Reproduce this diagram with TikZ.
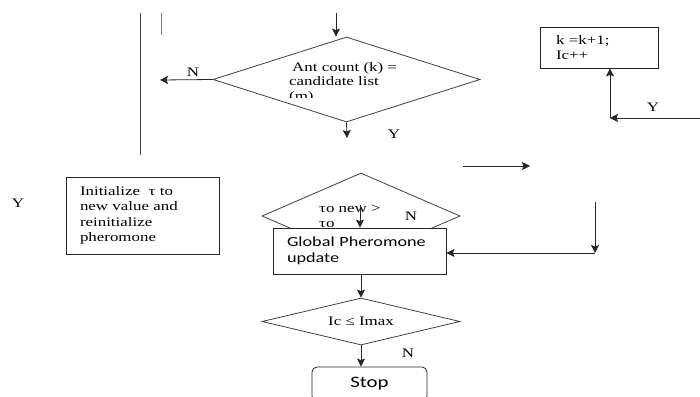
\documentclass[tikz,border=0pt]{standalone}
\usepackage{fontspec}
\setmainfont{Liberation Serif}[FakeStretch=1.3]
\newfontfamily\calibrifont{Carlito}[FakeStretch=1.3]
\usetikzlibrary{shapes.geometric, arrows.meta}
\tikzstyle{decNode} = [diamond, draw=black!75, line width=0.8pt, inner sep=0pt, font={\fontsize{13}{14}\selectfont}]
\tikzstyle{recNode} = [rectangle, draw=black!85, line width=0.8pt, fill=white, align=left, inner ysep=0pt, font={\fontsize{13}{15.5}\selectfont}]
\tikzstyle{txtNode} = [inner sep=0pt, align=left, font={\fontsize{13}{14.5}\selectfont}]
\tikzstyle{lblNode} = [inner sep=0pt, font={\fontsize{13}{14}\selectfont}]
\tikzstyle{arrow} = [line width=0.8pt, -{Stealth[length=8pt, width=8pt, inset=1.5pt]}, draw=black!85]
\tikzstyle{plainLine} = [line width=0.8pt, draw=black!75]

\begin{document}
\begin{tikzpicture}[x=1pt, y=-1pt]
        \useasboundingbox (0,0) rectangle (700,396);

        \node (antCount) [decNode, minimum width=267pt, minimum height=85pt] at (346.5,79.5) {};
        \begin{scope}
            \clip (260,55) rectangle (440,97);
            \node (antTxt) [txtNode, anchor=north west] at (289,62) {\hspace*{3pt}Ant count (k) =\\candidate list\\(m)};
        \end{scope}
        \node (tauCheck) [decNode, minimum width=198pt, minimum height=86pt] at (361,216) {};
        \node (tauTxt) [txtNode, anchor=north west] at (319,205) {τo new >\\τo};
        \node (icCheck) [decNode, aspect=4.2, minimum width=198pt, minimum height=47pt] at (361,321.5) {Ic ≤ Imax};

        \node (incK) [recNode, minimum width=118pt, minimum height=41pt, text width=86pt, inner xsep=16pt] at (599,47.5) {k =k+1;\\Ic++};
        \node (initTau) [recNode, minimum width=153pt, minimum height=77pt, text width=125pt, inner xsep=14pt] at (142.5,215.5) {Initialize \ τ to\\new value and\\reinitialize\\pheromone};
        \node (globalUpd) [recNode, minimum width=173pt, minimum height=46pt, text width=145pt, inner xsep=14pt, font={\calibrifont\fontsize{14}{16}\selectfont}] at (359.5,251) {Global Pheromone\\update};
        \node (stopNode) [recNode, rounded corners=5pt, minimum width=115pt, minimum height=34pt, align=center, font={\calibrifont\fontsize{16}{18}\selectfont}] at (369.5,384) {Stop};

        \coordinate (barTop) at (140,13);
        \coordinate (barBot) at (140,155);
        \coordinate (stubTop) at (161,13);
        \coordinate (stubBot) at (161,35);
        \coordinate (entryTop) at (336,13);
        \coordinate (noLeft) at (160,80);
        \coordinate (yesDown) at (347,138);
        \coordinate (rightIn) at (700,118);
        \coordinate (incCorner) at (610,118);
        \coordinate (midArrA) at (463,166);
        \coordinate (midArrB) at (530,166);
        \coordinate (dropTop) at (595,202);
        \coordinate (dropBot) at (595,253);
        \coordinate (tauDown) at (360,205);

        \draw [plainLine] (barTop) -- (barBot);
        \draw [plainLine, draw=black!55] (stubTop) -- (stubBot);
        \draw [arrow] (entryTop) -- (entryTop |- antCount.north);
        \draw [arrow] (antCount.west) -- (noLeft);
        \draw [arrow] (antCount.south) -- (yesDown);
        \draw [arrow] (rightIn) -- (incCorner);
        \draw [arrow] (incCorner) -- (incCorner |- incK.south);
        \draw [arrow] (midArrA) -- (midArrB);
        \draw [arrow] (dropTop) -- (dropBot);
        \draw [arrow] (dropBot) -- (globalUpd.east |- dropBot);
        \draw [arrow] (tauDown) -- (tauDown |- globalUpd.north);
        \draw [arrow] (globalUpd.south -| icCheck.north) -- (icCheck.north);
        \draw [arrow] (icCheck.south) -- (stopNode.north -| icCheck.south);

        \node (noAnt) [lblNode] at (193,72) {N};
        \node (yesAnt) [lblNode] at (394,134) {Y};
        \node (yesInc) [lblNode] at (653,107) {Y};
        \node (yesLeft) [lblNode] at (18,203) {Y};
        \node (noTau) [lblNode] at (411,216) {N};
        \node (noIc) [lblNode] at (408,353) {N};
\end{tikzpicture}
\end{document}
